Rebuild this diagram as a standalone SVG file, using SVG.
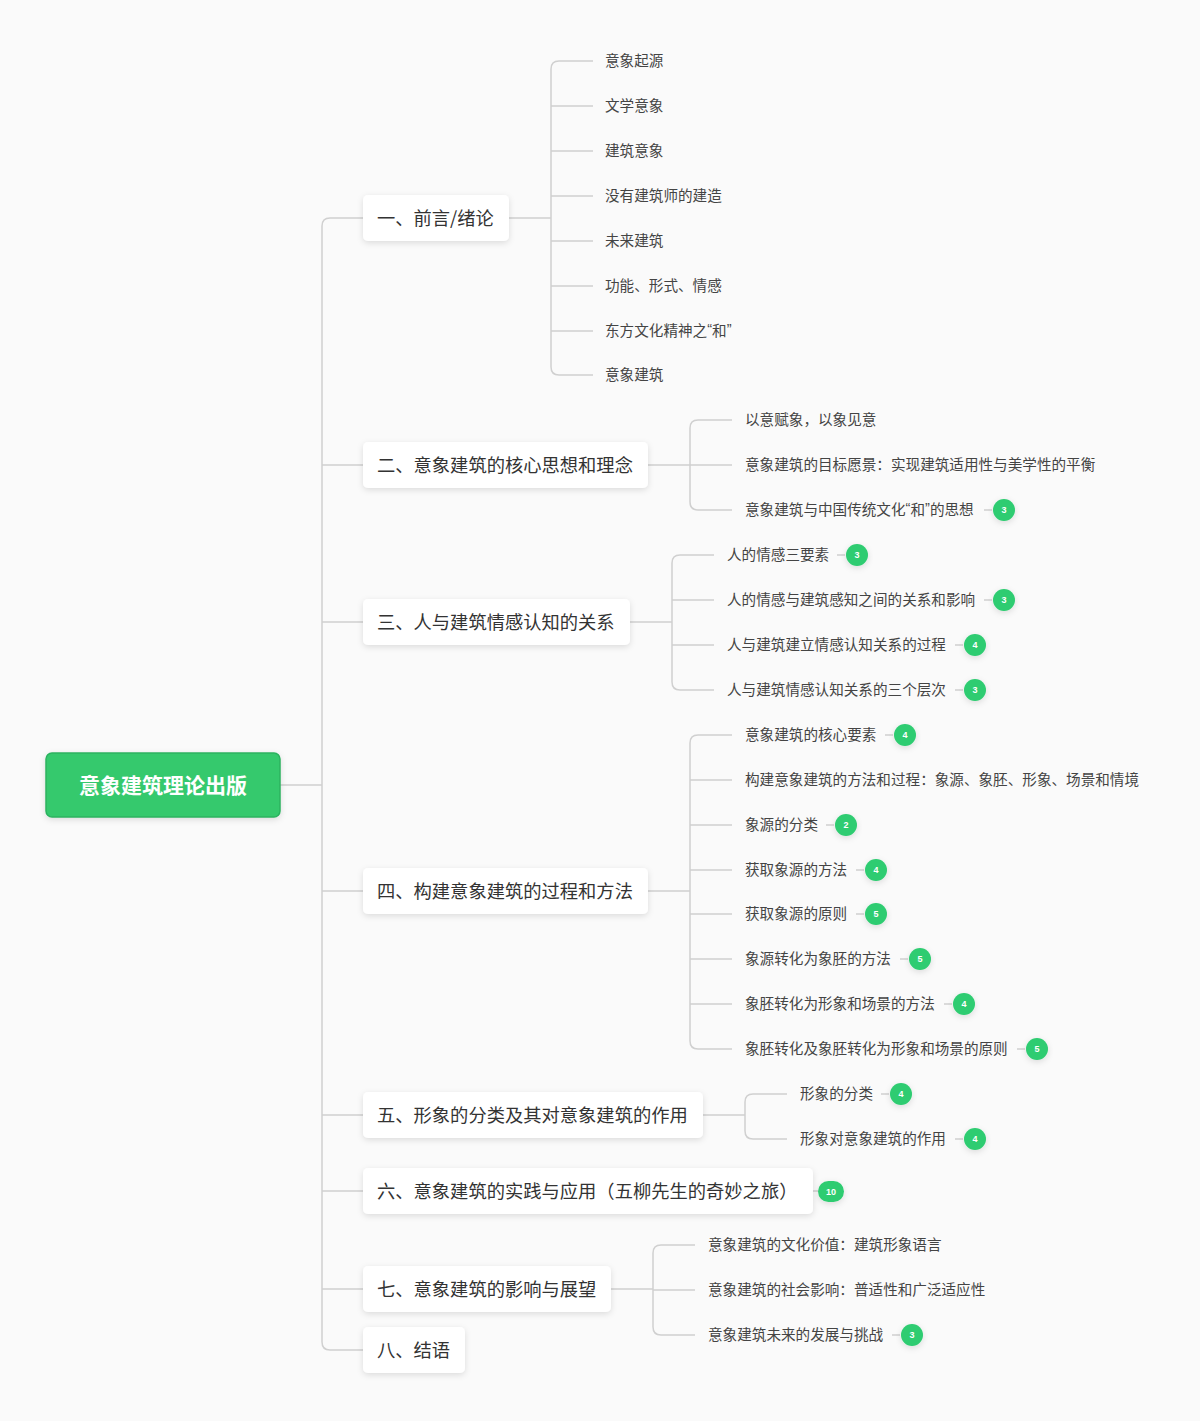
<svg xmlns="http://www.w3.org/2000/svg" width="1200" height="1421" viewBox="0 0 1200 1421">
<defs>
<filter id="sh" x="-20%" y="-30%" width="140%" height="170%"><feDropShadow dx="0" dy="2" stdDeviation="3" flood-color="#000" flood-opacity="0.12"/></filter>
<style>
.ln{fill:none;stroke:#d0d0d0;stroke-width:1.5}
.box{fill:#fff;filter:url(#sh)}
.t1{font-family:"Noto Sans CJK SC",sans-serif;font-size:18.3px;fill:#333;dominant-baseline:central}
.t2{font-family:"Noto Sans CJK SC",sans-serif;font-size:14.6px;fill:#444;dominant-baseline:central}
.q{font-family:"Liberation Sans",sans-serif}
.bd{fill:#2ecc71;filter:url(#sh)}
.bt{font-family:"Liberation Sans",sans-serif;font-size:9px;font-weight:bold;fill:#fff;text-anchor:middle;dominant-baseline:central}
</style>
</defs>
<rect width="1200" height="1421" fill="#fafafa"/>
<g id="connectors">
<path class="ln" d="M280 785H322M363 218H330Q322 218 322 226V1342Q322 1350 330 1350H363M322 465H363M322 622H363M322 891H363M322 1115H363M322 1191H363M322 1289H363"/>
<path class="ln" d="M509 218H551M593 61H559Q551 61 551 69V367Q551 375 559 375H593M551 106H593M551 151H593M551 196H593M551 241H593M551 286H593M551 331H593"/>
<path class="ln" d="M648 465H690M732 420H698Q690 420 690 428V502Q690 510 698 510H732M690 465H732"/>
<path class="ln" d="M630 622H672M714 555H680Q672 555 672 563V682Q672 690 680 690H714M672 600H714M672 645H714"/>
<path class="ln" d="M648 891H690M732 735H698Q690 735 690 743V1041Q690 1049 698 1049H732M690 780H732M690 825H732M690 870H732M690 914H732M690 959H732M690 1004H732"/>
<path class="ln" d="M703 1115H745M787 1094H753Q745 1094 745 1102V1131Q745 1139 753 1139H787"/>
<path class="ln" d="M611 1289H653M695 1245H661Q653 1245 653 1253V1327Q653 1335 661 1335H695M653 1290H695"/>
<path class="ln" d="M984 510H992M837 555H845M984 600H992M955 645H963M955 690H963M885 735H893M826 825H834M856 870H864M856 914H864M900 959H908M944 1004H952M1017 1049H1025M881 1094H889M955 1139H963M892 1335H900M813 1191H818"/>
</g>
<g id="root"><rect x="46" y="753" width="234" height="64" rx="6" fill="#34c96d" stroke="#2bb35f" stroke-width="1.5" filter="url(#sh)"/><text x="163" y="784" text-anchor="middle" dominant-baseline="central" font-family="Noto Sans CJK SC,sans-serif" font-size="21" font-weight="bold" fill="#fff">意象建筑理论出版</text></g>
<g id="n1"><rect class="box" x="363" y="195" width="146" height="46" rx="5"/><text class="t1" x="377" y="217">一、前言/绪论</text></g>
<g id="n2"><rect class="box" x="363" y="442" width="285" height="46" rx="5"/><text class="t1" x="377" y="464">二、意象建筑的核心思想和理念</text></g>
<g id="n3"><rect class="box" x="363" y="599" width="267" height="46" rx="5"/><text class="t1" x="377" y="621">三、人与建筑情感认知的关系</text></g>
<g id="n4"><rect class="box" x="363" y="868" width="285" height="46" rx="5"/><text class="t1" x="377" y="890">四、构建意象建筑的过程和方法</text></g>
<g id="n5"><rect class="box" x="363" y="1092" width="340" height="46" rx="5"/><text class="t1" x="377" y="1114">五、形象的分类及其对意象建筑的作用</text></g>
<g id="n6"><rect class="box" x="363" y="1168" width="450" height="46" rx="5"/><text class="t1" x="377" y="1190">六、意象建筑的实践与应用（五柳先生的奇妙之旅）</text></g>
<g id="n7"><rect class="box" x="363" y="1266" width="248" height="46" rx="5"/><text class="t1" x="377" y="1288">七、意象建筑的影响与展望</text></g>
<g id="n8"><rect class="box" x="363" y="1327" width="102" height="46" rx="5"/><text class="t1" x="377" y="1349">八、结语</text></g>
<g id="leaves1">
<text class="t2" x="605" y="59">意象起源</text>
<text class="t2" x="605" y="104">文学意象</text>
<text class="t2" x="605" y="149">建筑意象</text>
<text class="t2" x="605" y="194">没有建筑师的建造</text>
<text class="t2" x="605" y="239">未来建筑</text>
<text class="t2" x="605" y="284">功能、形式、情感</text>
<text class="t2" x="605" y="329">东方文化精神之<tspan class="q">“</tspan>和<tspan class="q">”</tspan></text>
<text class="t2" x="605" y="373">意象建筑</text>
</g>
<g id="leaves2">
<text class="t2" x="745" y="418">以意赋象，以象见意</text>
<text class="t2" x="745" y="463">意象建筑的目标愿景：实现建筑适用性与美学性的平衡</text>
<text class="t2" x="745" y="508">意象建筑与中国传统文化<tspan class="q">“</tspan>和<tspan class="q">”</tspan>的思想</text>
</g>
<g id="leaves3">
<text class="t2" x="727" y="553">人的情感三要素</text>
<text class="t2" x="727" y="598">人的情感与建筑感知之间的关系和影响</text>
<text class="t2" x="727" y="643">人与建筑建立情感认知关系的过程</text>
<text class="t2" x="727" y="688">人与建筑情感认知关系的三个层次</text>
</g>
<g id="leaves4">
<text class="t2" x="745" y="733">意象建筑的核心要素</text>
<text class="t2" x="745" y="778">构建意象建筑的方法和过程：象源、象胚、形象、场景和情境</text>
<text class="t2" x="745" y="823">象源的分类</text>
<text class="t2" x="745" y="868">获取象源的方法</text>
<text class="t2" x="745" y="912">获取象源的原则</text>
<text class="t2" x="745" y="957">象源转化为象胚的方法</text>
<text class="t2" x="745" y="1002">象胚转化为形象和场景的方法</text>
<text class="t2" x="745" y="1047">象胚转化及象胚转化为形象和场景的原则</text>
</g>
<g id="leaves5">
<text class="t2" x="800" y="1092">形象的分类</text>
<text class="t2" x="800" y="1137">形象对意象建筑的作用</text>
</g>
<g id="leaves7">
<text class="t2" x="708" y="1243">意象建筑的文化价值：建筑形象语言</text>
<text class="t2" x="708" y="1288">意象建筑的社会影响：普适性和广泛适应性</text>
<text class="t2" x="708" y="1333">意象建筑未来的发展与挑战</text>
</g>
<g id="badges">
<circle class="bd" cx="1004" cy="510" r="11"/><text class="bt" x="1004" y="510">3</text>
<circle class="bd" cx="857" cy="555" r="11"/><text class="bt" x="857" y="555">3</text>
<circle class="bd" cx="1004" cy="600" r="11"/><text class="bt" x="1004" y="600">3</text>
<circle class="bd" cx="975" cy="645" r="11"/><text class="bt" x="975" y="645">4</text>
<circle class="bd" cx="975" cy="690" r="11"/><text class="bt" x="975" y="690">3</text>
<circle class="bd" cx="905" cy="735" r="11"/><text class="bt" x="905" y="735">4</text>
<circle class="bd" cx="846" cy="825" r="11"/><text class="bt" x="846" y="825">2</text>
<circle class="bd" cx="876" cy="870" r="11"/><text class="bt" x="876" y="870">4</text>
<circle class="bd" cx="876" cy="914" r="11"/><text class="bt" x="876" y="914">5</text>
<circle class="bd" cx="920" cy="959" r="11"/><text class="bt" x="920" y="959">5</text>
<circle class="bd" cx="964" cy="1004" r="11"/><text class="bt" x="964" y="1004">4</text>
<circle class="bd" cx="1037" cy="1049" r="11"/><text class="bt" x="1037" y="1049">5</text>
<circle class="bd" cx="901" cy="1094" r="11"/><text class="bt" x="901" y="1094">4</text>
<circle class="bd" cx="975" cy="1139" r="11"/><text class="bt" x="975" y="1139">4</text>
<circle class="bd" cx="912" cy="1335" r="11"/><text class="bt" x="912" y="1335">3</text>
<rect class="bd" x="818" y="1181" width="26" height="21" rx="10.5"/><text class="bt" x="831" y="1191.5">10</text>
</g>
</svg>
